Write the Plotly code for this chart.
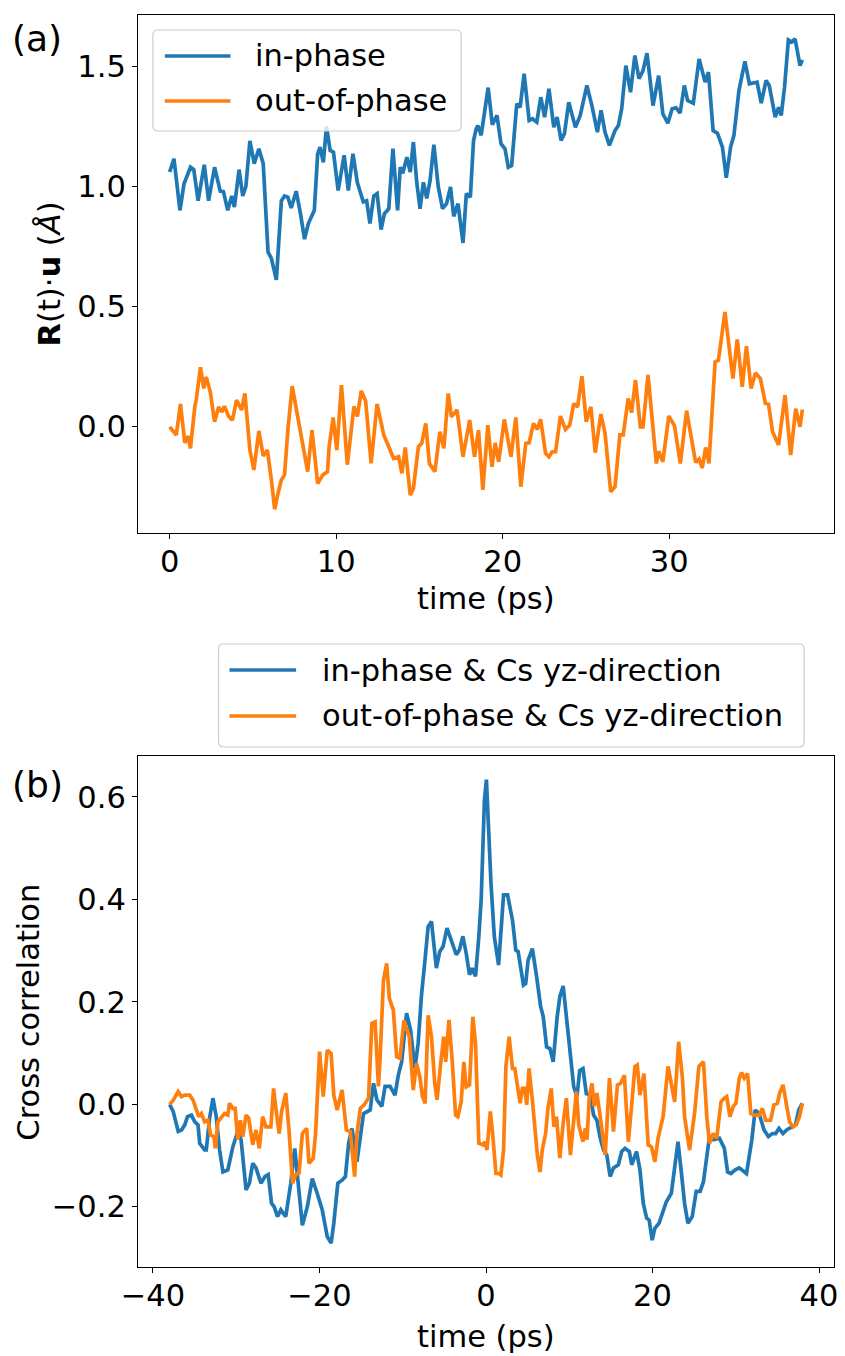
import plotly.graph_objects as go

# ---------------- data ----------------
t_top_in = [0.0, 0.26, 0.62, 0.86, 1.25, 1.45, 1.71, 2.08, 2.34, 2.70, 3.04, 3.23, 3.49, 3.73, 3.89, 4.17, 4.39, 4.58,
            4.82, 5.08, 5.36, 5.62, 5.91, 6.11, 6.41, 6.71, 6.90, 7.10, 7.30, 7.60, 7.86, 8.10, 8.33, 8.69, 8.89, 9.03,
            9.23, 9.42, 9.64, 9.84, 10.12, 10.48, 10.73, 11.01, 11.27, 11.63, 11.83, 12.03, 12.26, 12.46, 12.70, 12.90,
            13.16, 13.41, 13.69, 13.85, 14.00, 14.25, 14.45, 14.64, 14.84, 15.04, 15.24, 15.44, 15.64, 15.87, 16.13,
            16.39, 16.63, 16.87, 17.06, 17.32, 17.62, 17.82, 18.06, 18.25, 18.41, 18.51, 18.71, 19.13, 19.38, 19.66,
            19.90, 20.14, 20.34, 20.54, 20.85, 21.05, 21.29, 21.59, 21.79, 22.05, 22.29, 22.52, 22.78, 23.07, 23.27,
            23.51, 23.71, 23.97, 24.37, 24.66, 25.06, 25.36, 25.69, 25.91, 26.15, 26.41, 26.75, 26.95, 27.15, 27.40,
            27.68, 27.94, 28.19, 28.43, 28.67, 28.83, 29.03, 29.37, 29.62, 29.92, 30.18, 30.42, 30.66, 30.91, 31.11,
            31.45, 31.80, 32.16, 32.36, 32.64, 32.90, 33.20, 33.43, 33.69, 33.89, 34.19, 34.55, 34.82, 35.14, 35.28,
            35.53, 35.82, 36.01, 36.37, 36.57, 36.73, 36.93, 37.16, 37.36, 37.56, 37.86, 38.00]
in_phase = [1.06, 1.115, 0.90, 1.01, 1.08, 1.07, 0.94, 1.09, 0.94, 1.08, 0.98, 0.978, 0.90, 0.96, 0.914, 1.07, 0.96, 1.00,
            1.19, 1.095, 1.157, 1.095, 0.726, 0.70, 0.61, 0.94, 0.96, 0.955, 0.91, 0.98, 0.886, 0.78, 0.845, 0.90, 1.136,
            1.164, 1.10, 1.25, 1.15, 1.143, 0.983, 1.13, 0.983, 1.136, 1.017, 0.935, 0.94, 0.845, 0.96, 0.97, 0.82,
            0.886, 0.907, 1.157, 0.90, 1.08, 1.055, 1.122, 1.06, 1.185, 1.017, 0.907, 1.017, 0.95, 1.024, 1.174, 1.00,
            0.907, 0.928, 0.998, 0.875, 0.928, 0.764, 0.97, 0.955, 1.19, 1.24, 1.254, 1.213, 1.412, 1.257, 1.296,
            1.178, 1.157, 1.08, 1.087, 1.345, 1.33, 1.47, 1.275, 1.282, 1.268, 1.372, 1.289, 1.407, 1.247, 1.289,
            1.192, 1.22, 1.351, 1.247, 1.296, 1.421, 1.337, 1.226, 1.317, 1.226, 1.171, 1.233, 1.254, 1.324, 1.504,
            1.393, 1.546, 1.449, 1.483, 1.556, 1.456, 1.337, 1.462, 1.303, 1.264, 1.324, 1.328, 1.306, 1.421, 1.358,
            1.347, 1.532, 1.435, 1.477, 1.233, 1.222, 1.164, 1.036, 1.164, 1.213, 1.399, 1.522, 1.428, 1.435, 1.435,
            1.347, 1.442, 1.421, 1.289, 1.330, 1.296, 1.414, 1.611, 1.602, 1.616, 1.504, 1.528]

t_top_out = [0.0, 0.40, 0.65, 0.91, 1.11, 1.25, 1.51, 1.61, 1.85, 2.05, 2.20, 2.44, 2.70, 2.94, 3.13, 3.29, 3.53, 3.77,
             4.02, 4.32, 4.52, 4.82, 5.06, 5.36, 5.62, 5.87, 6.11, 6.31, 6.51, 6.71, 6.90, 7.10, 7.36, 7.66, 8.00, 8.29,
             8.55, 8.89, 9.19, 9.48, 9.58, 9.82, 10.04, 10.32, 10.67, 11.07, 11.27, 11.51, 11.77, 12.10, 12.46, 12.86,
             13.16, 13.45, 13.75, 13.95, 14.15, 14.45, 14.64, 14.94, 15.14, 15.38, 15.60, 15.93, 16.23, 16.47, 16.73,
             16.92, 17.26, 17.62, 18.02, 18.31, 18.55, 18.81, 19.11, 19.36, 19.55, 19.76, 20.10, 20.50, 20.79, 21.09,
             21.39, 21.59, 21.85, 22.08, 22.28, 22.58, 22.78, 22.98, 23.18, 23.47, 23.77, 24.03, 24.27, 24.50, 24.76,
             25.02, 25.30, 25.56, 25.90, 26.15, 26.49, 26.75, 27.04, 27.24, 27.54, 27.74, 27.98, 28.27, 28.43, 28.73,
             29.23, 29.38, 29.62, 29.98, 30.32, 30.67, 31.05, 31.59, 31.80, 31.99, 32.19, 32.39, 32.76, 32.96, 33.35,
             33.83, 34.09, 34.39, 34.64, 34.92, 35.18, 35.48, 35.78, 35.97, 36.21, 36.57, 36.96, 37.30, 37.60, 37.86,
             38.00]
out_of_phase = [-0.003, -0.037, 0.092, -0.07, -0.042, -0.093, 0.080, 0.115, 0.245, 0.157, 0.205, 0.143, 0.018, 0.080,
                0.059, 0.083, 0.042, 0.025, 0.108, 0.067, 0.136, -0.10, -0.183, -0.02, -0.125, -0.10, -0.225, -0.347,
                -0.28, -0.225, -0.204, -0.017, 0.167, 0.053, -0.065, -0.19, -0.017, -0.24, -0.204, -0.19, -0.086, 0.036,
                -0.10, 0.171, -0.161, 0.082, 0.04, 0.147, 0.105, -0.155, 0.092, -0.037, -0.086, -0.135, -0.128, -0.197,
                -0.089, -0.288, -0.26, -0.086, -0.072, 0.011, -0.156, -0.19, -0.023, -0.093, 0.136, 0.039, 0.067, -0.128,
                0.025, -0.128, -0.017, -0.266, 0.004, -0.17, -0.07, -0.149, 0.028, -0.128, 0.036, -0.253, -0.072, -0.07,
                0.011, -0.014, 0.028, -0.114, -0.128, -0.107, -0.107, 0.042, -0.014, 0.004, 0.094, 0.080, 0.208, 0.018,
                0.080, -0.111, 0.050, -0.03, -0.274, -0.253, -0.037, -0.037, 0.115, 0.056, 0.192, -0.003, -0.003, 0.213,
                -0.156, -0.105, -0.149, 0.042, 0.001, -0.156, 0.064, -0.152, -0.138, -0.175, -0.089, -0.156, 0.268,
                0.275, 0.476, 0.198, 0.361, 0.164, 0.333, 0.157, 0.222, 0.198, 0.094, 0.091, -0.024, -0.079, 0.129,
                -0.121, 0.073, -0.003, 0.069]

lag_in = [-38.0, -37.57, -36.97, -36.57, -36.18, -35.86, -35.38, -34.98, -34.59, -34.39, -33.79, -33.60, -33.20, -32.80,
          -32.40, -32.00, -31.60, -31.01, -30.41, -29.82, -29.42, -28.82, -28.42, -28.02, -27.63, -27.03, -26.55, -26.16,
          -25.76, -25.44, -25.04, -24.64, -24.05, -23.45, -22.97, -22.45, -22.06, -21.46, -20.87, -20.27, -19.67, -19.07,
          -18.60, -18.28, -17.80, -17.29, -16.89, -16.50, -16.10, -15.50, -15.10, -14.71, -13.91, -13.51, -13.11, -12.52,
          -12.12, -11.52, -10.93, -10.53, -10.13, -9.54, -9.06, -8.54, -8.15, -7.75, -7.35, -6.95, -6.55, -5.96, -5.56,
          -5.16, -4.68, -4.17, -3.57, -3.18, -2.78, -2.38, -1.98, -1.66, -1.26, -0.86, -0.58, -0.19, 0.05, 0.60, 1.00,
          1.51, 2.11, 2.59, 3.18, 3.58, 3.86, 4.50, 4.77, 5.05, 5.57, 6.08, 6.56, 6.88, 7.28, 7.68, 8.07, 8.55, 8.87,
          9.27, 9.74, 10.14, 10.54, 10.93, 11.25, 11.65, 12.05, 12.53, 12.92, 13.32, 13.72, 14.12, 14.51, 14.91, 15.31,
          15.90, 16.30, 16.70, 17.22, 17.50, 18.09, 18.49, 18.89, 19.29, 19.60, 19.96, 20.28, 20.79, 21.19, 21.66,
          22.26, 22.66, 23.06, 23.46, 23.85, 24.25, 24.77, 25.25, 25.72, 26.12, 26.44, 26.84, 27.31, 28.03, 28.63,
          29.02, 29.42, 29.94, 30.42, 30.81, 31.29, 31.93, 32.33, 32.80, 33.40, 33.92, 34.39, 34.79, 35.19, 35.67,
          36.18, 36.78, 37.17, 37.57, 38.00]
cc_in = [0.0, -0.014, -0.053, -0.05, -0.04, -0.024, -0.021, -0.034, -0.04, -0.076, -0.089, -0.089, -0.027, 0.012, -0.024,
         -0.089, -0.132, -0.128, -0.083, -0.053, -0.069, -0.167, -0.154, -0.115, -0.124, -0.154, -0.141, -0.137, -0.193,
         -0.20, -0.219, -0.206, -0.219, -0.154, -0.086, -0.18, -0.236, -0.20, -0.145, -0.174, -0.206, -0.258, -0.271,
         -0.232, -0.154, -0.148, -0.141, -0.076, -0.047, -0.112, -0.063, -0.018, -0.011, 0.041, 0.009, -0.004, 0.035,
         0.035, 0.018, 0.057, 0.083, 0.178, 0.145, 0.07, 0.119, 0.213, 0.278, 0.347, 0.357, 0.266, 0.298, 0.308, 0.344,
         0.318, 0.292, 0.302, 0.328, 0.295, 0.253, 0.266, 0.25, 0.328, 0.399, 0.594, 0.634, 0.431, 0.327, 0.272, 0.409,
         0.409, 0.36, 0.301, 0.298, 0.233, 0.236, 0.281, 0.304, 0.249, 0.191, 0.171, 0.112, 0.109, 0.083, 0.171, 0.210,
         0.231, 0.158, 0.086, 0.034, 0.015, 0.066, 0.07, 0.021, 0.018, -0.021, -0.031, -0.066, -0.089, -0.099, -0.141,
         -0.124, -0.118, -0.092, -0.086, -0.092, -0.118, -0.092, -0.128, -0.193, -0.222, -0.226, -0.265, -0.242, -0.232,
         -0.213, -0.19, -0.174, -0.122, -0.073, -0.132, -0.193, -0.232, -0.219, -0.170, -0.170, -0.151, -0.115, -0.063,
         -0.069, -0.066, -0.086, -0.132, -0.135, -0.128, -0.124, -0.128, -0.135, -0.069, -0.011, -0.018, -0.05, -0.063,
         -0.057, -0.057, -0.047, -0.057, -0.049, -0.044, -0.04, -0.011, 0.002]

lag_out = [-38.0, -37.57, -36.97, -36.57, -36.18, -35.58, -35.18, -34.79, -34.51, -34.19, -33.79, -33.40, -33.08, -32.68,
           -32.52, -32.20, -31.80, -31.41, -31.01, -30.81, -30.41, -30.13, -29.82, -29.50, -29.22, -28.82, -28.50, -28.02,
           -27.63, -27.23, -26.83, -26.43, -25.84, -25.52, -25.12, -24.84, -24.56, -24.05, -23.65, -23.25, -22.85,
           -22.45, -22.06, -21.54, -21.26, -20.75, -20.47, -19.99, -19.55, -19.07, -18.60, -18.28, -17.88, -17.29,
           -16.77, -16.30, -15.78, -15.50, -15.10, -14.63, -14.11, -13.71, -13.32, -12.92, -12.72, -12.32, -11.93,
           -11.61, -11.13, -10.73, -10.33, -9.86, -9.22, -8.74, -8.35, -7.95, -7.63, -7.31, -6.95, -6.55, -6.16, -5.88,
           -5.48, -5.08, -4.84, -4.45, -4.05, -3.65, -3.38, -2.98, -2.66, -2.38, -1.98, -1.58, -1.26, -0.86, -0.39,
           -0.12, 0.12, 0.52, 0.80, 1.19, 1.51, 1.79, 2.11, 2.39, 2.78, 3.18, 3.46, 3.78, 4.10, 4.37, 4.65, 4.89, 5.17,
           5.57, 6.17, 6.48, 6.76, 7.16, 7.44, 7.84, 8.16, 8.47, 8.87, 9.27, 9.66, 10.14, 10.54, 10.86, 11.14, 11.42,
           11.65, 11.93, 12.13, 12.41, 12.73, 13.00, 13.32, 13.72, 14.32, 14.83, 15.31, 15.79, 16.18, 16.62, 17.10,
           17.50, 17.89, 18.17, 18.49, 18.97, 19.48, 19.88, 20.28, 20.67, 21.27, 21.87, 22.26, 22.66, 23.14, 23.58,
           23.85, 24.45, 25.05, 25.57, 26.12, 26.52, 26.84, 27.31, 27.71, 28.23, 28.63, 28.91, 29.30, 29.70, 30.02,
           30.42, 30.70, 31.02, 31.42, 31.81, 32.33, 32.80, 33.20, 33.60, 34.19, 34.59, 34.99, 35.27, 35.67, 36.06,
           36.46, 36.86, 37.25, 37.65, 38.00]
cc_out = [0.0, 0.008, 0.025, 0.015, 0.018, 0.018, 0.008, -0.014, -0.024, -0.018, -0.034, -0.031, -0.06, -0.063, -0.086,
          -0.034, -0.027, -0.018, -0.021, 0.002, -0.008, -0.008, -0.069, -0.031, -0.063, -0.021, -0.027, -0.079, -0.05,
          -0.086, -0.024, -0.044, -0.044, 0.031, -0.024, -0.057, -0.014, 0.022, -0.053, -0.154, -0.137, -0.134, -0.057,
          -0.047, -0.115, -0.105, -0.057, 0.103, 0.015, 0.106, 0.099, 0.018, -0.011, 0.028, -0.05, -0.053, -0.141,
          -0.057, -0.008, -0.001, 0.012, 0.158, 0.161, 0.035, 0.09, 0.242, 0.275, 0.207, 0.184, 0.093, 0.09, 0.164,
          0.132, 0.028, 0.08, 0.054, 0.015, 0.002, 0.174, 0.132, 0.041, 0.009, 0.074, 0.132, 0.083, 0.165, 0.083,
          -0.021, -0.024, 0.005, 0.083, 0.034, 0.038, 0.171, 0.119, -0.076, -0.079, -0.073, -0.089, -0.014, -0.057,
          -0.135, -0.135, -0.138, -0.089, 0.074, 0.132, 0.07, 0.07, 0.034, 0.002, 0.031, 0.031, -0.001, 0.07, 0.008,
          -0.099, -0.132, -0.089, -0.057, -0.008, 0.031, -0.044, -0.024, -0.105, -0.037, 0.012, -0.099, -0.031, 0.025,
          -0.04, -0.057, -0.073, -0.047, -0.069, 0.015, 0.041, -0.004, 0.022, -0.024, -0.099, 0.051, -0.053, 0.038,
          0.041, 0.057, -0.073, -0.001, 0.074, 0.077, 0.018, 0.06, -0.079, -0.083, -0.112, -0.066, -0.024, 0.074,
          0.041, 0.005, 0.122, 0.054, -0.024, -0.089, -0.018, 0.074, 0.083, -0.024, -0.076, -0.057, -0.066, 0.005,
          0.012, 0.015, -0.024, -0.004, 0.002, 0.051, 0.062, 0.051, 0.06, -0.018, -0.021, -0.021, -0.008, -0.031,
          -0.031, -0.001, 0.002, 0.022, 0.038, 0.002, -0.034, -0.044, -0.04, -0.024, 0.002]

top_names = ["in-phase", "out-of-phase"]
bottom_names = ["in-phase &amp; Cs yz-direction", "out-of-phase &amp; Cs yz-direction"]
top_xticks = [0, 10, 20, 30]
top_yticks = [0.0, 0.5, 1.0, 1.5]
bot_xticks = [-40, -20, 0, 20, 40]
bot_yticks = [-0.2, 0.0, 0.2, 0.4, 0.6]

# ---------------- styling ----------------
BLUE = "#1f77b4"
ORANGE = "#ff7f0e"
FONT = "DejaVu Sans"
FS = 30.5
FS_PANEL = 36
LW = 3.7
W, H = 845, 1356
L, R, T, B = 138, 838, 15, 1267


def px(x):
    return (x - L) / (R - L)


def py(y):
    return (B - y) / (B - T)


fig = go.Figure()
fig.add_trace(go.Scatter(x=t_top_in, y=in_phase, mode="lines", line=dict(color=BLUE, width=LW),
                         xaxis="x", yaxis="y", showlegend=False))
fig.add_trace(go.Scatter(x=t_top_out, y=out_of_phase, mode="lines", line=dict(color=ORANGE, width=LW),
                         xaxis="x", yaxis="y", showlegend=False))
fig.add_trace(go.Scatter(x=lag_in, y=cc_in, mode="lines", line=dict(color=BLUE, width=LW),
                         xaxis="x2", yaxis="y2", showlegend=False))
fig.add_trace(go.Scatter(x=lag_out, y=cc_out, mode="lines", line=dict(color=ORANGE, width=LW),
                         xaxis="x2", yaxis="y2", showlegend=False))

axis_common = dict(showline=True, linecolor="black", linewidth=1.2, mirror=True, showgrid=False,
                   zeroline=False, ticks="outside", ticklen=5, tickwidth=1.2, tickcolor="black",
                   tickfont=dict(family=FONT, size=FS, color="black"))

fig.update_layout(
    width=W, height=H,
    margin=dict(l=L, r=W - R, t=T, b=H - B),
    paper_bgcolor="white", plot_bgcolor="white",
    font=dict(family=FONT, size=FS, color="black"),
    showlegend=False,
    xaxis=dict(domain=[0, 1], anchor="y", range=[-1.9, 39.9], tickvals=top_xticks,
               ticklabelstandoff=-4, **axis_common),
    yaxis=dict(domain=[py(533), 1], anchor="x", range=[-0.446, 1.715], tickvals=top_yticks,
               tickformat=".1f", **axis_common),
    xaxis2=dict(domain=[0, 1], anchor="y2", range=[-41.8, 41.8], tickvals=bot_xticks,
                ticklabelstandoff=-4, **axis_common),
    yaxis2=dict(domain=[0, py(756)], anchor="x2", range=[-0.3175, 0.680], tickvals=bot_yticks,
                tickformat=".1f", **axis_common),
)

# axis labels and panel labels
ann = []


def text(s, x, y, xanchor="center", yanchor="middle", angle=0, size=FS):
    ann.append(dict(text=s, x=px(x), y=py(y), xref="paper", yref="paper", showarrow=False,
                    xanchor=xanchor, yanchor=yanchor, textangle=angle,
                    font=dict(family=FONT, size=size, color="black")))


text("(a)", 9, 38, xanchor="left", size=FS_PANEL)
text("(b)", 9, 785, xanchor="left", size=FS_PANEL)
text("time (ps)", 488, 598)
text("time (ps)", 488, 1337)
text("<b>R</b>(t)·<b>u</b> (<i>Å</i>)", 48, 274, angle=-90)
text("Cross correlation", 27, 1012, angle=-90)

# legends (drawn as boxes + sample lines + text)
shapes = []


def rounded_box(x0, y0, x1, y1, r=5):
    X0, X1 = px(x0), px(x1)
    Y0, Y1 = py(y0), py(y1)
    rx = r / (R - L)
    ry = r / (B - T)
    path = (f"M {X0 + rx},{Y0} L {X1 - rx},{Y0} Q {X1},{Y0} {X1},{Y0 - ry} "
            f"L {X1},{Y1 + ry} Q {X1},{Y1} {X1 - rx},{Y1} L {X0 + rx},{Y1} Q {X0},{Y1} {X0},{Y1 + ry} "
            f"L {X0},{Y0 - ry} Q {X0},{Y0} {X0 + rx},{Y0} Z")
    shapes.append(dict(type="path", path=path, xref="paper", yref="paper",
                       fillcolor="rgba(255,255,255,0.8)", line=dict(color="#cccccc", width=1.2),
                       layer="above"))


def legend_line(x0, x1, y, color):
    shapes.append(dict(type="line", x0=px(x0), x1=px(x1), y0=py(y), y1=py(y), xref="paper", yref="paper",
                       line=dict(color=color, width=LW), layer="above"))


rounded_box(153, 30, 463, 131)
legend_line(165, 231, 56, BLUE)
legend_line(165, 231, 101, ORANGE)
text(top_names[0], 254, 56, xanchor="left")
text(top_names[1], 254, 101, xanchor="left")

rounded_box(219, 644, 808, 747)
legend_line(230, 297, 670, BLUE)
legend_line(230, 297, 716, ORANGE)
text(bottom_names[0], 321, 670, xanchor="left")
text(bottom_names[1], 321, 716, xanchor="left")

fig.update_layout(annotations=ann, shapes=shapes)

fig.write_html("out.html")
